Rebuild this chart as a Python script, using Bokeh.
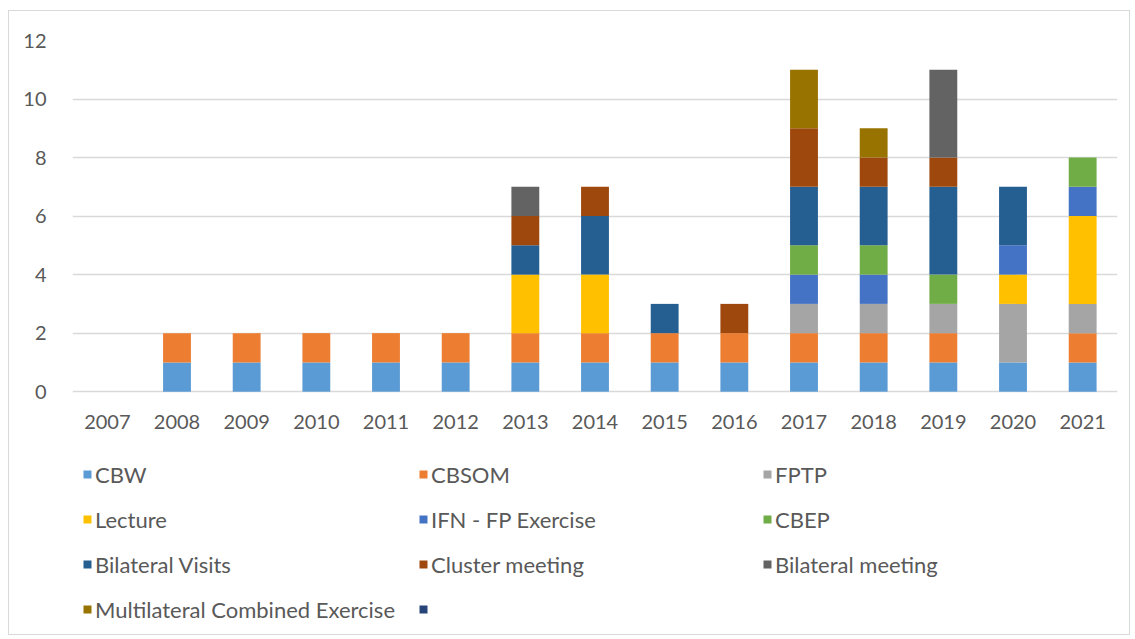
from bokeh.plotting import figure
from bokeh.models import FactorRange, Legend, LegendItem, FixedTicker, Range1d
from bokeh.embed import file_html
from bokeh.resources import INLINE

years = ["2007", "2008", "2009", "2010", "2011", "2012", "2013", "2014",
         "2015", "2016", "2017", "2018", "2019", "2020", "2021"]

cbw        = [0, 1, 1, 1, 1, 1, 1, 1, 1, 1, 1, 1, 1, 1, 1]
cbsom      = [0, 1, 1, 1, 1, 1, 1, 1, 1, 1, 1, 1, 1, 0, 1]
fptp       = [0, 0, 0, 0, 0, 0, 0, 0, 0, 0, 1, 1, 1, 2, 1]
lecture    = [0, 0, 0, 0, 0, 0, 2, 2, 0, 0, 0, 0, 0, 1, 3]
ifn        = [0, 0, 0, 0, 0, 0, 0, 0, 0, 0, 1, 1, 0, 1, 1]
cbep       = [0, 0, 0, 0, 0, 0, 0, 0, 0, 0, 1, 1, 1, 0, 1]
bil_visits = [0, 0, 0, 0, 0, 0, 1, 2, 1, 0, 2, 2, 3, 2, 0]
cluster    = [0, 0, 0, 0, 0, 0, 1, 1, 0, 1, 2, 1, 1, 0, 0]
bil_meet   = [0, 0, 0, 0, 0, 0, 1, 0, 0, 0, 0, 0, 3, 0, 0]
multi      = [0, 0, 0, 0, 0, 0, 0, 0, 0, 0, 2, 1, 0, 0, 0]
unnamed    = [0, 0, 0, 0, 0, 0, 0, 0, 0, 0, 0, 0, 0, 0, 0]

series_names = ["CBW", "CBSOM", "FPTP", "Lecture", "IFN - FP Exercise", "CBEP",
                "Bilateral Visits", "Cluster meeting", "Bilateral meeting",
                "Multilateral Combined Exercise", " "]
series_values = [cbw, cbsom, fptp, lecture, ifn, cbep, bil_visits, cluster,
                 bil_meet, multi, unnamed]
colors = ["#5B9BD5", "#ED7D31", "#A5A5A5", "#FFC000", "#4472C4", "#70AD47",
          "#255E91", "#9E480E", "#636363", "#997300", "#264478"]
y_ticks = [0, 2, 4, 6, 8, 10, 12]

keys = ["s%d" % i for i in range(len(series_values))]
data = {"year": years}
for k, v in zip(keys, series_values):
    data[k] = v

FONT = "Lato"
TXT = "#595959"

# px per unit: 350 px for 12 units; frame extends below zero to hold legend
px_per_unit = 350 / 12
y_bottom = -(634 - 390) / px_per_unit

p = figure(x_range=FactorRange(*years), y_range=Range1d(y_bottom, 12),
           width=1122, height=625, output_backend="svg", toolbar_location=None,
           min_border_left=63, min_border_right=14, min_border_top=29,
           min_border_bottom=0)
p.styles = {"border": "1px solid #D9D9D9", "box-sizing": "border-box",
            "margin-left": "8px", "margin-top": "10px"}

renderers = p.vbar_stack(keys, x="year", width=0.4, source=data,
                         color=colors, line_color=None)

p.outline_line_color = None
p.xgrid.grid_line_color = None
p.ygrid.grid_line_color = "#D9D9D9"
p.ygrid.grid_line_width = 1.5
p.yaxis.ticker = FixedTicker(ticks=y_ticks)
p.xaxis.fixed_location = 0

for ax in (p.xaxis, p.yaxis):
    ax.axis_line_color = None
    ax.major_tick_line_color = None
    ax.minor_tick_line_color = None
    ax.major_label_text_font = FONT
    ax.major_label_text_font_size = "20px"
    ax.major_label_text_color = TXT
p.yaxis.major_label_standoff = 20
p.xaxis.major_label_standoff = 17

columns = [[0, 3, 6, 9], [1, 4, 7, 10], [2, 5, 8]]
col_x = [10, 346, 690]
base_y = 12
for col, cx in zip(columns, col_x):
    items = [LegendItem(label=series_names[i], renderers=[renderers[i]]) for i in col]
    vy = base_y + 45 * (4 - len(col))
    lg = Legend(items=items, location=(cx, vy), orientation="vertical",
                padding=0, margin=0, spacing=15, border_line_color=None,
                background_fill_alpha=0, glyph_width=10, glyph_height=10,
                label_standoff=3, label_height=30,
                label_text_font=FONT, label_text_font_size="22px",
                label_text_color=TXT)
    p.add_layout(lg, "center")

open("out.html", "w").write(file_html(p, INLINE))
